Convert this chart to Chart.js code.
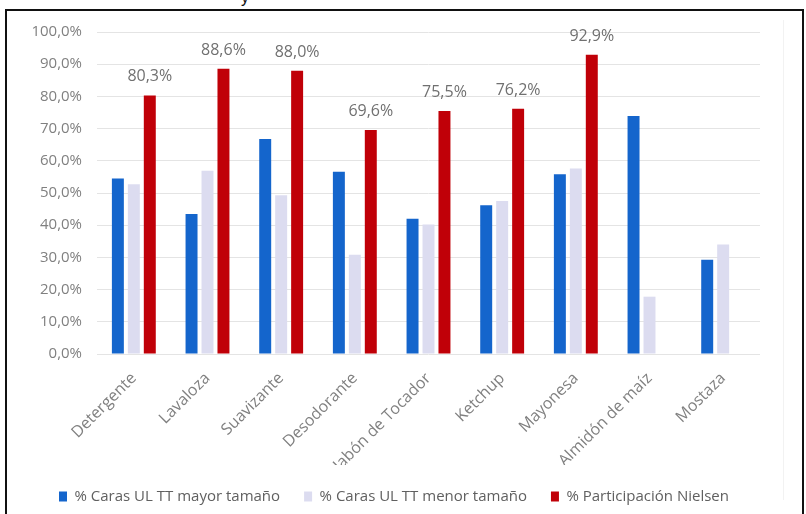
<!DOCTYPE html>
<html><head><meta charset="utf-8">
<script src="https://cdn.jsdelivr.net/npm/chart.js@4/dist/chart.umd.min.js"></script>
<style>
html,body{margin:0;padding:0;background:#fff;}
#wrap{position:relative;width:806px;height:514px;overflow:hidden;background:#fff;}
#frame{position:absolute;left:5px;top:9px;width:799px;height:520px;border:2px solid #111;box-sizing:border-box;}
#frag{position:absolute;left:241px;top:-11px;font:16px "Liberation Sans",sans-serif;color:#111;}
#faint{position:absolute;left:783px;top:20px;width:1px;height:480px;background:#f2f2f2;}
canvas{position:absolute;left:0;top:0;}
</style></head>
<body><div id="wrap"><div id="frag">y</div><div id="frame"></div><div id="faint"></div><canvas id="c" width="806" height="514"></canvas></div>
<script>
const categories = ["Detergente","Lavaloza","Suavizante","Desodorante","Jabón de Tocador","Ketchup","Mayonesa","Almidón de maíz","Mostaza"];
const seriesNames = ["% Caras UL TT mayor tamaño","% Caras UL TT menor tamaño","% Participación Nielsen"];
const carasMayor = [54.5, 43.5, 66.8, 56.6, 42.0, 46.2, 55.8, 73.9, 29.3];
const carasMenor = [52.7, 56.9, 49.3, 30.8, 40.2, 47.5, 57.6, 17.8, 34.0];
const nielsen = [80.3, 88.6, 88.0, 69.6, 75.5, 76.2, 92.9, null, null];
const yTicks = [0,10,20,30,40,50,60,70,80,90,100];

const fmt = v => v.toFixed(1).replace('.', ',') + '%';
const FONT = '"Open Sans", sans-serif';

const labelPlugin = {
  id: 'redLabels',
  afterDatasetsDraw(chart) {
    const ctx = chart.ctx;
    const meta = chart.getDatasetMeta(2);
    ctx.save();
    ctx.font = '16px ' + FONT;
    ctx.fillStyle = '#707070';
    ctx.textAlign = 'center';
    ctx.textBaseline = 'alphabetic';
    meta.data.forEach((bar, i) => {
      const v = nielsen[i];
      if (v == null) return;
      ctx.fillText(fmt(v), bar.x, bar.y - 14);
    });
    ctx.restore();
  }
};

new Chart(document.getElementById('c'), {
  type: 'bar',
  data: {
    labels: categories,
    datasets: [
      {label: seriesNames[0], data: carasMayor, backgroundColor: '#1465CC'},
      {label: seriesNames[1], data: carasMenor, backgroundColor: '#DCDCF0'},
      {label: seriesNames[2], data: nielsen, backgroundColor: '#C00008'}
    ]
  },
  options: {
    responsive: false,
    animation: false,
    devicePixelRatio: 1,
    layout: {padding: {left: 0, right: 18, top: 32, bottom: 0}},
    datasets: {bar: {categoryPercentage: 0.65, barPercentage: 0.75}},
    scales: {
      y: {
        min: 0, max: 100,
        afterBuildTicks: s => { s.ticks = yTicks.map(v => ({value: v})); },
        afterFit: s => { s.width = 97; },
        border: {display: false},
        grid: {color: '#E4E4E4', drawTicks: false},
        ticks: {padding: 15, color: '#808080', font: {family: FONT, size: 15}, callback: v => fmt(v)}
      },
      yRight: {
        position: 'right',
        min: 0, max: 100,
        afterFit: s => { s.width = 28; },
        border: {display: false},
        grid: {display: false, drawTicks: false},
        ticks: {display: false}
      },
      x: {
        afterFit: s => { s.height = 111; },
        border: {display: false},
        grid: {display: false, drawTicks: false},
        ticks: {padding: 15, color: '#808080', font: {family: FONT, size: 16}, minRotation: 45, maxRotation: 45}
      }
    },
    plugins: {
      tooltip: {enabled: false},
      legend: {
        position: 'bottom',
        labels: {boxWidth: 8, boxHeight: 10, padding: 24, color: '#606060', font: {family: FONT, size: 15}}
      }
    }
  },
  plugins: [labelPlugin]
});
</script></body></html>
